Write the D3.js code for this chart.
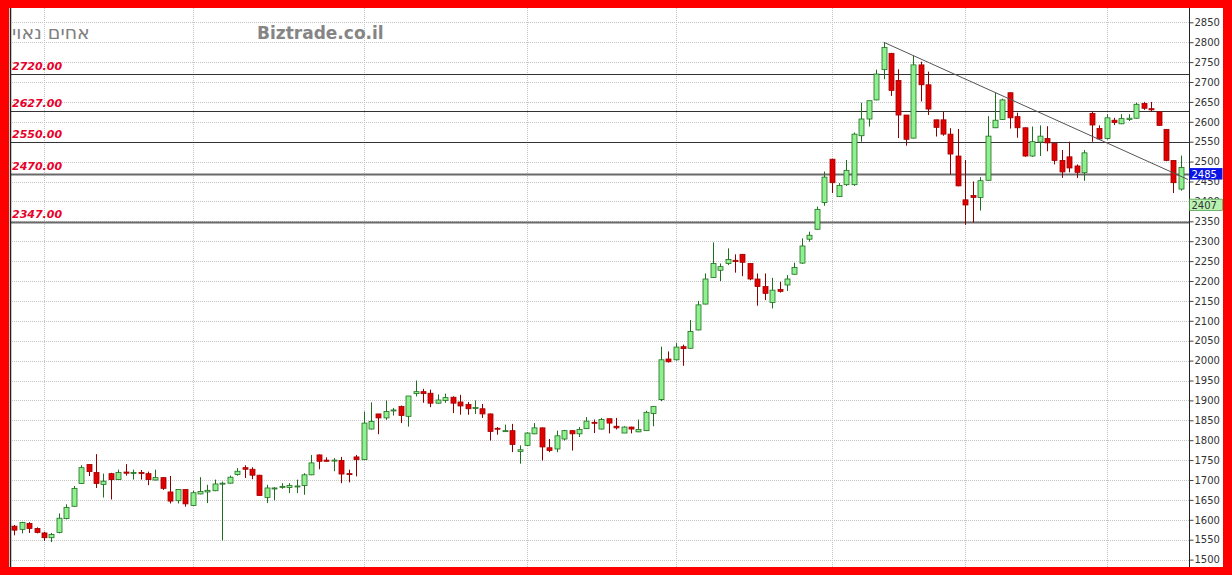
<!DOCTYPE html>
<html><head><meta charset="utf-8">
<script src="https://cdn.jsdelivr.net/npm/d3@7/dist/d3.min.js"></script>
<style>html,body{margin:0;padding:0;background:#ff0000;overflow:hidden}svg{display:block}</style>
</head><body>
<svg id="chart" width="1232" height="575"></svg>
<script>
// ---- data ----
const opens  = [1584,1576,1591,1578,1567,1555,1568,1603,1634,1691,1739,1719,1689,1716,1701,1720,1717,1719,1716,1700,
1706,1670,1648,1676,1636,1665,1670,1673,1690,1692,1714,1731,1727,1712,1656,1679,1682,1681,1683,1686,
1713,1763,1750,1748,1749,1716,1758,1751,1828,1866,1856,1874,1885,1860,1917,1922,1918,1893,1900,1908,
1896,1890,1880,1879,1866,1830,1822,1824,1772,1787,1816,1831,1781,1778,1803,1824,1816,1829,1845,1828,
1854,1835,1818,1833,1821,1824,1867,1902,2004,2002,2035,2031,2077,2142,2209,2227,2244,2252,2267,2244,
2205,2186,2146,2179,2190,2217,2245,2305,2330,2397,2506,2412,2442,2442,2565,2607,2655,2731,2772,2704,
2617,2559,2743,2693,2605,2605,2569,2514,2404,2415,2410,2453,2585,2606,2673,2613,2585,2514,2549,2558,
2546,2503,2512,2489,2472,2621,2583,2558,2604,2595,2606,2609,2646,2633,2625,2581,2503,2431];
const highs  = [1587,1595,1594,1581,1570,1567,1616,1639,1685,1737,1740,1765,1716,1718,1726,1740,1726,1725,1721,1726,
1707,1710,1677,1677,1673,1707,1688,1701,1696,1711,1730,1737,1732,1713,1688,1682,1692,1692,1701,1717,
1763,1764,1757,1755,1758,1726,1763,1872,1895,1866,1900,1881,1887,1911,1950,1929,1927,1915,1917,1910,
1914,1896,1900,1891,1867,1833,1839,1841,1787,1820,1843,1832,1803,1824,1826,1825,1833,1858,1852,1856,
1854,1856,1835,1834,1852,1874,1886,2035,2023,2044,2040,2102,2150,2219,2297,2244,2282,2267,2268,2245,
2219,2219,2208,2198,2215,2246,2307,2324,2387,2475,2507,2446,2504,2573,2648,2653,2731,2800,2773,2732,
2617,2766,2751,2726,2605,2626,2584,2582,2504,2450,2461,2614,2673,2658,2674,2623,2586,2588,2591,2589,
2546,2529,2550,2493,2529,2627,2591,2619,2610,2619,2619,2648,2650,2650,2626,2581,2503,2515];
const lows   = [1561,1566,1567,1566,1547,1544,1566,1601,1633,1690,1710,1680,1656,1651,1700,1711,1701,1701,1687,1699,
1675,1641,1641,1633,1635,1664,1642,1672,1548,1691,1711,1705,1702,1660,1642,1649,1678,1667,1667,1663,
1712,1727,1746,1722,1692,1694,1709,1750,1827,1815,1851,1862,1843,1834,1910,1894,1883,1892,1894,1868,
1864,1864,1866,1856,1799,1814,1821,1770,1741,1786,1815,1749,1770,1770,1799,1774,1808,1828,1818,1827,
1817,1827,1818,1817,1820,1823,1835,1898,1995,2000,1987,2030,2076,2141,2208,2200,2240,2221,2212,2202,
2138,2152,2131,2171,2175,2216,2243,2299,2329,2389,2421,2411,2439,2439,2550,2588,2654,2707,2665,2559,
2540,2558,2651,2617,2563,2565,2468,2438,2341,2347,2377,2452,2584,2605,2583,2560,2512,2512,2514,2526,
2493,2459,2473,2459,2452,2550,2554,2555,2592,2594,2602,2608,2630,2625,2590,2501,2421,2427];
const closes = [1574,1593,1578,1568,1555,1563,1604,1631,1679,1731,1721,1691,1697,1701,1719,1717,1719,1717,1701,1706,
1679,1647,1676,1640,1668,1671,1674,1690,1692,1707,1722,1727,1712,1661,1680,1680,1684,1686,1685,1713,
1743,1747,1747,1750,1715,1714,1751,1843,1847,1856,1872,1876,1862,1911,1922,1917,1893,1901,1907,1893,
1886,1879,1882,1866,1822,1828,1824,1789,1776,1818,1831,1783,1774,1811,1824,1816,1827,1848,1843,1852,
1843,1831,1833,1828,1827,1870,1885,2002,1997,2034,2030,2073,2140,2205,2244,2236,2254,2249,2247,2205,
2186,2169,2177,2174,2205,2234,2288,2315,2380,2461,2447,2440,2478,2569,2607,2653,2720,2787,2679,2617,
2556,2743,2693,2632,2586,2569,2519,2439,2391,2410,2452,2564,2604,2655,2610,2585,2514,2550,2564,2547,
2503,2474,2484,2473,2522,2592,2557,2610,2598,2608,2609,2644,2634,2630,2591,2503,2447,2485];

const yTicks = d3.range(1500, 2851, 50);          // right axis labels
const monthStarts = [4, 24, 47, 69, 89, 110, 128, 147]; // candle index of vertical grid lines
const levels = [2720, 2627, 2550, 2470, 2347];
const levelLabels = ["2720.00", "2627.00", "2550.00", "2470.00", "2347.00"];
const trendIdx = [117, 157.97];
const trendVal = [2800, 2455];
const badgeValues = [2485, 2407];
const titleText = "אחים נאוי";
const siteText = "Biztrade.co.il";

// ---- layout ----
const W = 1232, H = 575;
const plot = {left: 10, right: 1189, top: 8, bottom: 567};
const svg = d3.select("#chart");

const x = d3.scaleLinear().domain([0, 157]).range([14.3, 1180.8]);
const y = d3.scaleLinear().domain([1500, 2850]).range([559.6, 22.3]);

const candles = opens.map((o, i) => ({i, o, h: highs[i], l: lows[i], c: closes[i]}));

// frame
svg.append("rect").attr("x", 0).attr("y", 0).attr("width", W).attr("height", H).attr("fill", "#ff0000");
svg.append("rect").attr("x", 9).attr("y", plot.top).attr("width", 1223 - 9).attr("height", plot.bottom - plot.top).attr("fill", "#ffffff");

// grid
const grid = svg.append("g");
grid.selectAll("line.h").data(yTicks).join("line")
  .attr("x1", plot.left).attr("x2", plot.right)
  .attr("y1", d => Math.round(y(d)) + 0.5).attr("y2", d => Math.round(y(d)) + 0.5)
  .attr("stroke", "#c4c4c4").attr("stroke-dasharray", "1,1").attr("stroke-width", 1);
grid.selectAll("line.v").data(monthStarts).join("line")
  .attr("x1", d => Math.round(x(d)) + 0.5).attr("x2", d => Math.round(x(d)) + 0.5)
  .attr("y1", plot.top).attr("y2", plot.bottom)
  .attr("stroke", "#c4c4c4").attr("stroke-dasharray", "1,1").attr("stroke-width", 1);

// header texts
svg.append("text").attr("x", 12).attr("y", 39).attr("text-anchor", "start")
  .attr("font-family", "DejaVu Sans").attr("font-size", 19).attr("fill", "#808080").text(titleText);
svg.append("text").attr("x", 257).attr("y", 39)
  .attr("font-family", "DejaVu Sans").attr("font-weight", "bold").attr("font-size", 17).attr("fill", "#858585").text(siteText);

// level lines
svg.selectAll("line.lvl").data(levels).join("line")
  .attr("x1", plot.left).attr("x2", plot.right)
  .attr("y1", d => Math.round(y(d)) + 0.5).attr("y2", d => Math.round(y(d)) + 0.5)
  .attr("stroke", (d, k) => k >= 3 ? "#6a6a6a" : "#333333")
  .attr("stroke-width", (d, k) => k >= 3 ? 2 : 1);
svg.selectAll("text.lvl").data(levels).join("text")
  .attr("x", 12).attr("y", d => y(d) - 4)
  .attr("font-family", "DejaVu Sans").attr("font-size", 11).attr("font-weight", "bold").attr("font-style", "italic")
  .attr("fill", "#e8002a").text((d, k) => levelLabels[k]);

// candles
const bw = 5;
const cg = svg.append("g");
const up = d => d.c >= d.o;
cg.selectAll("line.wick").data(candles).join("line")
  .attr("x1", d => Math.round(x(d.i)) + 0.5).attr("x2", d => Math.round(x(d.i)) + 0.5)
  .attr("y1", d => y(d.h)).attr("y2", d => y(d.l))
  .attr("stroke", d => up(d) ? "#1f6e1f" : "#8a0000").attr("stroke-width", 1);
cg.selectAll("rect.body").data(candles).join("rect")
  .attr("x", d => Math.round(x(d.i)) - 2)
  .attr("y", d => y(Math.max(d.o, d.c)))
  .attr("width", bw)
  .attr("height", d => Math.max(1, Math.abs(y(d.o) - y(d.c))))
  .attr("fill", d => up(d) ? "#8ef08e" : "#e00000")
  .attr("stroke", d => up(d) ? "#1f6e1f" : "#a00000").attr("stroke-width", 0.8);

// trend line
svg.append("line")
  .attr("x1", x(trendIdx[0])).attr("y1", y(trendVal[0]))
  .attr("x2", x(trendIdx[1])).attr("y2", y(trendVal[1]))
  .attr("stroke", "#555555").attr("stroke-width", 1);

// axes lines
svg.append("line").attr("x1", 10.5).attr("x2", 10.5).attr("y1", plot.top).attr("y2", plot.bottom).attr("stroke", "#222").attr("stroke-width", 1.5);
svg.append("line").attr("x1", 1189.5).attr("x2", 1189.5).attr("y1", plot.top).attr("y2", plot.bottom).attr("stroke", "#222").attr("stroke-width", 1);

// right axis
const axis = d3.axisRight(y).tickValues(yTicks).tickSize(4).tickSizeOuter(0).tickPadding(1).tickFormat(d3.format("d"));
const ag = svg.append("g").attr("transform", "translate(1189.5,0)").call(axis);
ag.select(".domain").remove();
ag.selectAll(".tick line").attr("stroke", "#444");
ag.selectAll(".tick text").attr("font-family", "DejaVu Sans").attr("font-size", 10).attr("fill", "#333");

// badges
const badgeFill = ["#0a14e6", "#b9f2b0"];
const badgeText = ["#ffffff", "#333333"];
const bg = svg.selectAll("g.badge").data(badgeValues).join("g").attr("transform", d => `translate(1189.5,${y(d) + 0.5})`);
bg.append("rect").attr("x", 0).attr("y", 0).attr("width", 33).attr("height", 11.5)
  .attr("fill", (d, k) => badgeFill[k])
  .attr("stroke", (d, k) => k === 1 ? "#2e8b2e" : "none").attr("stroke-width", 0.6);
bg.append("text").attr("x", 2).attr("y", 9.5)
  .attr("font-family", "DejaVu Sans").attr("font-size", 10)
  .attr("fill", (d, k) => badgeText[k]).text(d => d);
</script>
</body></html>
